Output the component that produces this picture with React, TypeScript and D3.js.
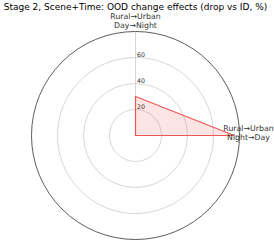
import React from "react";
import * as d3 from "d3";

const title = "Stage 2, Scene+Time: OOD change effects (drop vs ID, %)";
const categories = [["Rural→Urban", "Day→Night"], ["Rural→Urban", "Night→Day"]];
const categoryAngles = [0, 90];
const values = [30, 76];
const radialTicks = [20, 40, 60];
const rMax = 80;

export default function App() {
  const W = 274, H = 241;
  const cx = 135.5, cy = 135.5, R = 104;
  const r = d3.scaleLinear().domain([0, rMax]).range([0, R]);
  const ang = (deg: number) => (deg * Math.PI) / 180;
  const pts: [number, number][] = values.map((v, i) => [ang(categoryAngles[i]), r(v)]);
  const radial = d3.lineRadial().curve(d3.curveLinearClosed);
  const path = radial([...pts, [0, 0]]) as string;
  return (
    <svg width={W} height={H} style={{ position: "absolute", left: 0, top: 0, fontFamily: "DejaVu Sans" }}>
      <text x={135.5} y={9.5} textAnchor="middle" fontSize={9.0} fill="#000">{title}</text>
      <g transform={`translate(${cx},${cy})`}>
        {radialTicks.map((t) => (
          <circle key={t} r={r(t)} fill="none" stroke="#cccccc" strokeWidth={0.8} />
        ))}
        {categoryAngles.map((a, i) => (
          <line key={i} x1={0} y1={0} x2={R * Math.sin(ang(a))} y2={-R * Math.cos(ang(a))} stroke="#cccccc" strokeWidth={0.8} />
        ))}
        <circle r={R} fill="none" stroke="#333" strokeWidth={0.8} />
        <path d={path} fill="rgba(240,80,80,0.15)" stroke="#ee5555" strokeWidth={1.2} strokeLinejoin="miter" />
        {radialTicks.map((t) => (
          <text key={t} x={1.5} y={-r(t) - 0.5} fontSize={6.3} fill="#333">{t}</text>
        ))}
      </g>
      <text x={cx} y={19} textAnchor="middle" fontSize={7.8} fill="#333">
        <tspan x={cx}>{categories[0][0]}</tspan>
        <tspan x={cx} dy={9}>{categories[0][1]}</tspan>
      </text>
      <text x={248.5} y={131} textAnchor="middle" fontSize={7.8} fill="#333">
        <tspan x={248.5}>{categories[1][0]}</tspan>
        <tspan x={248.5} dy={9}>{categories[1][1]}</tspan>
      </text>
    </svg>
  );
}
